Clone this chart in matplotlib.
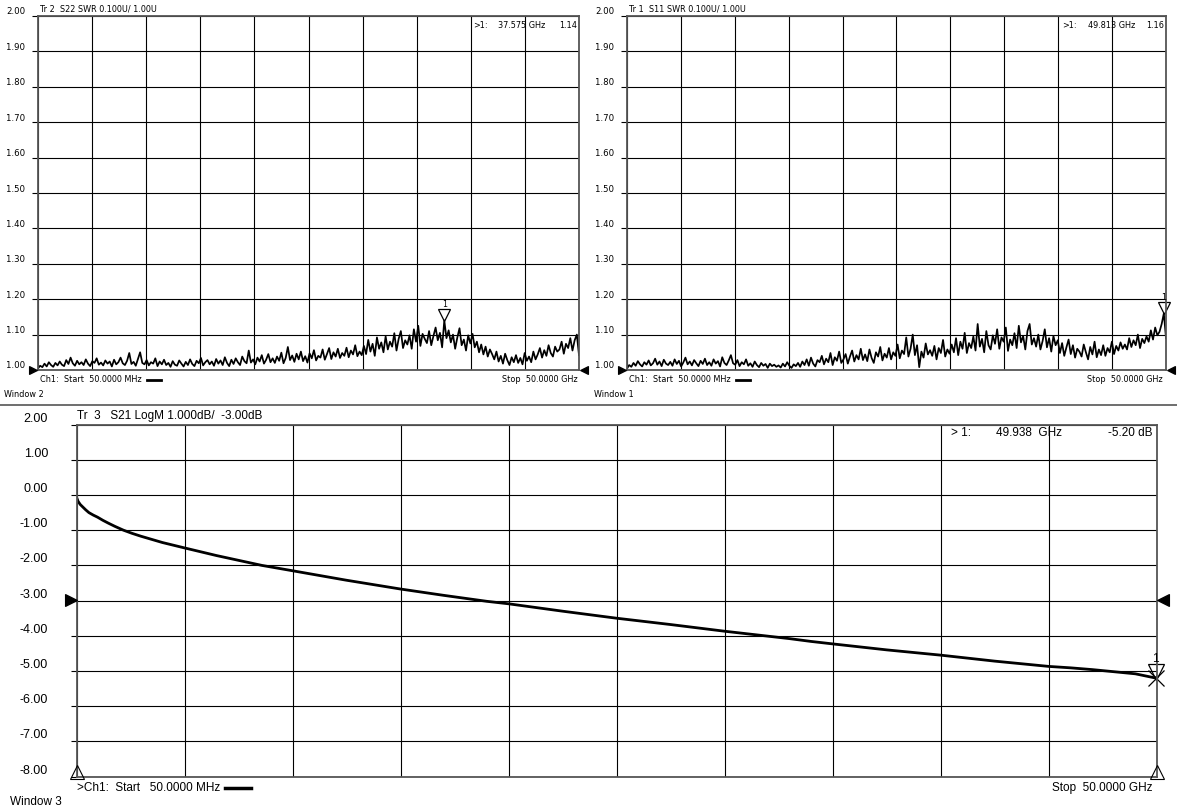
import numpy as np
import matplotlib
matplotlib.use("Agg")
import matplotlib.pyplot as plt
from matplotlib import font_manager, transforms
from matplotlib.font_manager import FontProperties
from matplotlib.lines import Line2D

W, H = 1177, 810

# sweep: 50 MHz .. 50 GHz
f_start, f_stop = 0.05, 50.0

# S22 SWR (top left), thousandths above 1.000
s22_milli = [
    5, 12, 8, 18, 10, 22, 14, 9, 20, 13,
    24, 15, 11, 28, 17, 35, 19, 12, 26, 16,
    22, 14, 30, 18, 11, 25, 20, 33, 15, 21,
    13, 27, 18, 24, 10, 29, 16, 22, 35, 19,
    14, 26, 48, 17, 23, 12, 31, 50, 20, 16,
    28, 13, 22, 18, 33, 11, 24, 16, 29, 14,
    20, 9, 25, 15, 12, 27, 18, 10, 23, 14,
    30, 17, 11, 26, 19, 34, 13, 22, 28, 16,
    24, 12, 31, 18, 27, 14, 36, 20, 11, 29,
    17, 33, 22, 14, 38, 25, 19, 55, 21, 30,
    16, 35, 24, 42, 18, 29, 45, 22, 33, 20,
    38, 26, 49, 19, 34, 65, 28, 41, 23, 46,
    30, 52, 25, 39, 21, 47, 33, 56, 27, 40,
    35, 58, 29, 45, 62, 31, 50, 38, 60, 34,
    48, 40, 63, 36, 55, 44, 70, 39, 52, 42,
    68, 45, 85, 52, 74, 40, 92, 60, 78, 50,
    95, 58, 80, 66, 104, 55, 88, 110, 62, 84,
    72, 98, 60, 115, 80, 125, 68, 102, 88, 76,
    110, 70, 96, 120, 84, 105, 64, 140, 90, 112,
    78, 100, 60, 92, 118, 70, 86, 55, 98, 75,
    102, 64, 80, 50, 72, 44, 66, 38, 58, 45,
    30, 52, 24, 40, 18, 46, 28, 14, 36, 22,
    42, 20, 34, 16, 48, 26, 38, 22, 52, 30,
    44, 62, 35, 56, 40, 70, 48, 38, 66, 52,
    58, 80, 46, 74, 62, 90, 55, 84, 100, 42,
]

# S11 SWR (top right), thousandths above 1.000
s11_milli = [
    4, 14, 9, 20, 12, 25, 16, 10, 22, 15,
    27, 13, 19, 32, 15, 24, 11, 29, 18, 14,
    23, 12, 30, 17, 26, 10, 21, 35, 16, 24,
    13, 28, 19, 11, 26, 17, 32, 14, 22, 12,
    30, 18, 25, 10, 36, 20, 14, 27, 42, 19,
    15, 28, 11, 22, 16, 30, 12, 19, 9, 24,
    14, 8, 20, 12, 17, 6, 18, 11, 15, 9,
    13, 7, 18, 10, 22, 12, 6, 16, 11, 20,
    9, 24, 14, 30, 12, 35, 18, 10, 28, 22,
    40, 16, 32, 22, 48, 14, 36, 26, 52, 20,
    30, 45, 18, 38, 55, 24, 42, 30, 60, 28,
    44, 25, 58, 34, 20, 50, 38, 65, 27, 46,
    35, 62, 30, 50, 40, 72, 33, 55, 45, 92,
    38, 60, 100, 42, 70, 8, 52, 35, 75, 44,
    56, 40, 68, 30, 62, 48, 85, 38, 58, 46,
    72, 50, 90, 42, 80, 60, 105, 48, 76, 62,
    95, 55, 130, 66, 88, 50, 110, 70, 58, 98,
    74, 115, 60, 92, 80, 120, 54, 86, 70, 104,
    62, 125, 78, 96, 58, 110, 130, 72, 90, 66,
    100, 58, 82, 115, 64, 90, 52, 96, 70, 84,
    48, 76, 40, 64, 86, 45, 70, 35, 60, 52,
    38, 72, 50, 30, 65, 44, 80, 36, 58, 42,
    70, 40, 62, 50, 80, 45, 68, 55, 78, 60,
    72, 58, 90, 65, 84, 70, 100, 62, 88, 76,
    95, 80, 112, 86, 120, 98, 108, 130, 160, 90,
]

# S21 insertion loss (bottom), GHz / dB
s21_freq = [0.05, 0.1, 0.2, 0.3, 0.45, 0.6, 0.8, 1.0, 1.25, 1.5, 1.8, 2.2,
            2.6, 3.0, 3.5, 4.0, 5.0, 6.5, 8.6, 10.0, 12.5, 15.0, 17.0, 19.0,
            20.0, 22.5, 25.0, 27.5, 30.0, 32.0, 33.0, 34.0, 35.0, 37.5, 40.0,
            42.5, 45.0, 46.0, 47.0, 48.0, 49.0, 49.938, 50.0]
s21_db = [-0.10, -0.18, -0.27, -0.33, -0.42, -0.50, -0.57, -0.63, -0.72,
          -0.80, -0.89, -1.00, -1.09, -1.17, -1.26, -1.35, -1.50, -1.72,
          -2.00, -2.15, -2.42, -2.67, -2.85, -3.02, -3.09, -3.30, -3.50,
          -3.68, -3.87, -4.01, -4.08, -4.16, -4.23, -4.40, -4.55, -4.72,
          -4.87, -4.91, -4.96, -5.02, -5.08, -5.20, -5.17]

swr_ticks = [2.00, 1.90, 1.80, 1.70, 1.60, 1.50, 1.40, 1.30, 1.20, 1.10, 1.00]
db_ticks = [2.00, 1.00, 0.00, -1.00, -2.00, -3.00, -4.00, -5.00, -6.00, -7.00, -8.00]

plt.rcParams["font.family"] = ["Liberation Sans", "DejaVu Sans"]

# the analyzer prints the small windows in a narrow face; use one if present
narrow_fp = None
for f in font_manager.fontManager.ttflist:
    if ("Narrow" in f.name or "Condensed" in f.name or f.stretch in ("condensed", "semi-condensed")) \
            and f.style == "normal" and f.weight in (400, "normal", "regular"):
        narrow_fp = f.fname
        break
SMALL = 6.5 if narrow_fp else 5.6

fig = plt.figure(figsize=(W / 100, H / 100), dpi=100)
renderer = fig.canvas.get_renderer()


def box(x0, y0, x1, y1):
    return [x0 / W, 1 - y1 / H, (x1 - x0) / W, (y1 - y0) / H]


def ftext(x, y, s, small=False, **kw):
    kw.setdefault("va", "center")
    if small:
        size = kw.pop("fontsize", SMALL)
        if narrow_fp:
            kw["fontproperties"] = FontProperties(fname=narrow_fp, size=size)
        else:
            kw["fontsize"] = size
    return fig.text(x / W, 1 - y / H, s, **kw)


def fline(x0, x1, y, lw):
    fig.add_artist(Line2D([x0 / W, x1 / W], [1 - y / H] * 2, transform=fig.transFigure,
                          color="black", lw=lw))


def bar_after(t, y, length, lw):
    bb = t.get_window_extent(renderer)
    fline(bb.x1 + 5, bb.x1 + 5 + length, y, lw)


def fmark(x, y, marker, size, filled=True, lw=0.8):
    fig.add_artist(Line2D([x / W], [1 - y / H], transform=fig.transFigure,
                          marker=marker, markersize=size, ls="none",
                          color="black", markerfacecolor="black" if filled else "none",
                          markeredgewidth=lw))


def panel(rect, ylo, yhi, ticks, label_x, label_dy, fs, small):
    x0, y0, x1, y1 = rect
    ax = fig.add_axes(box(*rect))
    ax.set_xlim(f_start, f_stop)
    ax.set_ylim(ylo, yhi)
    ax.set_xticks(np.linspace(f_start, f_stop, 11))
    ax.set_yticks(np.linspace(ylo, yhi, 11))
    ax.tick_params(axis="x", length=0, labelbottom=False)
    ax.tick_params(axis="y", length=4, width=0.8, direction="out", labelleft=False)
    ax.grid(True, color="black", lw=0.8)
    for sp in ax.spines.values():
        sp.set_color("#555555")
        sp.set_linewidth(1.3)
    for v in ticks:
        py = y0 + (yhi - v) / (yhi - ylo) * (y1 - y0)
        ftext(label_x, py - label_dy, f"{v:.2f}", small=small, ha="right", fontsize=fs)
    return ax


def marker_v(ax, f, v, ms, up, fs, cross=False):
    ax.plot([f], [v], marker="v", ms=ms, mfc="none", mec="black", mew=0.9, clip_on=False,
            transform=transforms.offset_copy(ax.transData, fig=fig, y=up, units="dots"))
    if cross:
        ax.plot([f], [v], marker="x", ms=ms, color="black", mew=0.9, clip_on=False)
    kw = {"fontproperties": FontProperties(fname=narrow_fp, size=fs)} if (narrow_fp and fs < 8) \
        else {"fontsize": fs}
    ax.text(f, v, "1", ha="center", va="bottom", clip_on=False,
            transform=transforms.offset_copy(ax.transData, fig=fig, y=2 * up + 1, units="dots"), **kw)


# ---- top left: S22 SWR
r1 = (38, 16, 579, 370)
ax1 = panel(r1, 1.0, 2.0, swr_ticks, 25, 4, 6.8 if narrow_fp else 6.2, True)
fq = np.linspace(f_start, f_stop, len(s22_milli))
ax1.plot(fq, 1 + np.array(s22_milli) / 1000, color="black", lw=1.25)
marker_v(ax1, 37.575, 1.14, 8, 5, 6.5)
ftext(40, 9, "Tr 2  S22 SWR 0.100U/ 1.00U", small=True)
ftext(473, 25, ">1:", small=True)
ftext(498, 25, "37.575 GHz", small=True)
ftext(577, 25, "1.14", small=True, ha="right")
t = ftext(40, 380, "Ch1:  Start  50.0000 MHz", small=True)
bar_after(t, 380, 14, 2)
ftext(578, 380, "Stop  50.0000 GHz", small=True, ha="right")
ftext(4, 395, "Window 2", small=True)
fmark(33, 370, ">", 6)
fmark(584, 370, "<", 6)

# ---- top right: S11 SWR
r2 = (627, 16, 1166, 370)
ax2 = panel(r2, 1.0, 2.0, swr_ticks, 614, 4, 6.8 if narrow_fp else 6.2, True)
fq = np.linspace(f_start, f_stop, len(s11_milli))
ax2.plot(fq, 1 + np.array(s11_milli) / 1000, color="black", lw=1.25)
marker_v(ax2, 49.813, 1.16, 8, 5, 6.5)
ftext(629, 9, "Tr 1  S11 SWR 0.100U/ 1.00U", small=True)
ftext(1062, 25, ">1:", small=True)
ftext(1088, 25, "49.813 GHz", small=True)
ftext(1164, 25, "1.16", small=True, ha="right")
t = ftext(629, 380, "Ch1:  Start  50.0000 MHz", small=True)
bar_after(t, 380, 14, 2)
ftext(1163, 380, "Stop  50.0000 GHz", small=True, ha="right")
ftext(594, 395, "Window 1", small=True)
fmark(622, 370, ">", 6)
fmark(1171, 370, "<", 6)

# separator between the windows
fig.add_artist(Line2D([0, 1], [1 - 405 / H] * 2, transform=fig.transFigure,
                      color="#555555", lw=1.2))

# ---- bottom: S21 LogM
r3 = (77, 424.6, 1157, 776.6)
ax3 = panel(r3, -8.0, 2.0, db_ticks, 48, 6, 9, False)
ax3.plot(s21_freq, s21_db, color="black", lw=2.0, solid_joinstyle="round")
marker_v(ax3, 49.938, -5.20, 11, 6, 8.5, cross=True)
ftext(77, 416, "Tr  3   S21 LogM 1.000dB/  -3.00dB", fontsize=8.5)
ftext(951, 433, "> 1:", fontsize=8.5)
ftext(996, 433, "49.938  GHz", fontsize=8.5)
ftext(1152, 433, "-5.20 dB", ha="right", fontsize=8.5)
t = ftext(77, 788, ">Ch1:  Start   50.0000 MHz", fontsize=8.5)
bar_after(t, 788, 26, 2.5)
ftext(1153, 788, "Stop  50.0000 GHz", ha="right", fontsize=8.5)
ftext(10, 802, "Window 3", fontsize=8.5)
fmark(71, 600, ">", 8)
fmark(1163, 600, "<", 8)
fmark(77, 772, "^", 10, filled=False)
fmark(1157, 772, "^", 10, filled=False)

fig.savefig("out.png", dpi=100)
